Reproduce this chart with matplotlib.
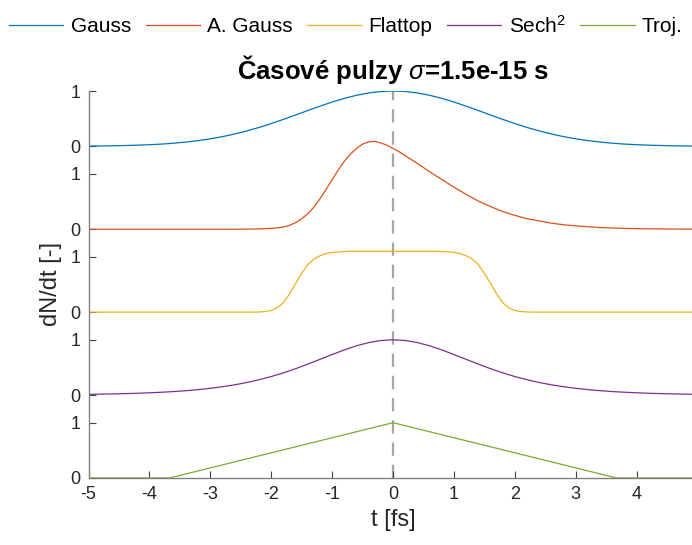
import numpy as np
import matplotlib
matplotlib.use("Agg")
import matplotlib.pyplot as plt

plt.rcParams["font.family"] = ["Liberation Sans", "DejaVu Sans"]
plt.rcParams["mathtext.fontset"] = "custom"
plt.rcParams["mathtext.rm"] = "Liberation Sans"
plt.rcParams["mathtext.it"] = "Liberation Sans:italic"
plt.rcParams["axes.unicode_minus"] = False

# time grid [fs]
t_half = np.linspace(0, 5, 26)

# symmetric pulses, right half (t = 0 .. 5 fs)
gauss_half = [1, 0.991, 0.965, 0.923, 0.867, 0.801, 0.726, 0.647, 0.566, 0.487,
              0.411, 0.341, 0.278, 0.223, 0.175, 0.135, 0.103, 0.077, 0.056, 0.040,
              0.029, 0.020, 0.014, 0.009, 0.006, 0.004]
sech_half = [1, 0.987, 0.949, 0.891, 0.817, 0.733, 0.646, 0.559, 0.477, 0.402,
             0.335, 0.277, 0.227, 0.185, 0.151, 0.122, 0.098, 0.079, 0.063, 0.051,
             0.041, 0.032, 0.026, 0.021, 0.017, 0.013]

# flattop, right half on its own grid
t_flat_half = [0, 0.1, 0.2, 0.3, 0.4, 0.5, 0.6, 0.7, 0.8, 0.9, 1.0, 1.1, 1.2,
               1.3, 1.4, 1.5, 1.6, 1.7, 1.8, 1.9, 2.0, 2.1, 2.2, 2.3, 5.0]
flat_half = [1.10, 1.10, 1.10, 1.10, 1.10, 1.10, 1.10, 1.10, 1.095, 1.09, 1.08,
             1.06, 1.02, 0.96, 0.86, 0.70, 0.52, 0.33, 0.17, 0.08, 0.03, 0.01,
             0.003, 0, 0]

# asymmetric gauss, own grid (finer around the peak)
t_ag = [-5, -2.6, -2.4, -2.2, -2.0, -1.9, -1.8, -1.7, -1.6, -1.5, -1.4, -1.3,
        -1.2, -1.1, -1.0, -0.9, -0.8, -0.7, -0.6, -0.5, -0.4, -0.3, -0.2, -0.1,
        0.0, 0.1, 0.2, 0.3, 0.4, 0.5, 0.6, 0.7, 0.8, 0.9, 1.0, 1.1, 1.2, 1.4,
        1.6, 1.8, 2.0, 2.2, 2.4, 2.6, 2.8, 3.0, 3.4, 3.8, 4.2, 4.6, 5.0]
agauss = [0, 0, 0.001, 0.005, 0.015, 0.025, 0.04, 0.07, 0.12, 0.19, 0.28, 0.40,
          0.55, 0.72, 0.90, 1.07, 1.23, 1.36, 1.46, 1.54, 1.58, 1.59, 1.56, 1.52,
          1.46, 1.40, 1.33, 1.26, 1.19, 1.115, 1.04, 0.97, 0.90, 0.83, 0.76,
          0.695, 0.63, 0.51, 0.41, 0.32, 0.25, 0.19, 0.15, 0.11, 0.08, 0.06,
          0.03, 0.015, 0.007, 0.003, 0.001]

# triangle
t_troj = [-5, -3.67, 0, 3.67, 5]
troj = [0, 0, 1, 0, 0]

labels = ["Gauss", "A. Gauss", "Flattop", "Sech$^2$", "Troj."]
offsets = [6, 4.5, 3, 1.5, 0]
colors = ["#0072BD", "#D95319", "#EDB120", "#7E2F8E", "#77AC30"]


def mirror(x, y):
    x = np.asarray(x, float)
    y = np.asarray(y, float)
    return np.concatenate([-x[:0:-1], x]), np.concatenate([y[:0:-1], y])


series = [
    (t_half, gauss_half, True),
    (t_ag, agauss, False),
    (t_flat_half, flat_half, True),
    (t_half, sech_half, True),
    (t_troj, troj, False),
]

fig = plt.figure(figsize=(6.92, 5.45), dpi=100)
ax = fig.add_axes([0.128, 0.123, 0.880, 0.710])

lines = []
for (x, y, sym), off, c, lab in zip(series, offsets, colors, labels):
    if sym:
        x, y = mirror(x, y)
    ln, = ax.plot(x, np.asarray(y) + off, color=c, lw=0.9, label=lab)
    lines.append(ln)

ax.axvline(0, color="#a6a6a6", lw=1.6, ls=(0, (6, 4)), zorder=0)

ax.set_xlim(-5, 5)
ax.set_ylim(0, 7)
ax.set_xticks(range(-5, 5))
yt = []
for off in offsets[::-1]:
    yt += [off, off + 1]
ax.set_yticks(yt)
ax.set_yticklabels(["0", "1"] * 5)

for s in ["top", "right"]:
    ax.spines[s].set_visible(False)
for s in ["left", "bottom"]:
    ax.spines[s].set_color("#808080")
    ax.spines[s].set_linewidth(1.0)
ax.tick_params(direction="in", length=5, width=0.8, color="#404040",
               labelsize=13, labelcolor="#262626", pad=6)

ax.set_xlabel("t [fs]", fontsize=17, color="#262626")
ax.set_ylabel("dN/dt [-]", fontsize=17, color="#262626", labelpad=6)
ax.set_title(r"Časové pulzy $\sigma$=1.5e-15 s", fontsize=18.5, fontweight="bold",
             pad=9)

fig.legend(handles=lines, loc="upper center", bbox_to_anchor=(0.5, 1.0),
           ncol=5, frameon=False, fontsize=15, handlelength=2.6,
           handletextpad=0.35, columnspacing=0.7, borderaxespad=0.3)

fig.savefig("out.png", dpi=100)
